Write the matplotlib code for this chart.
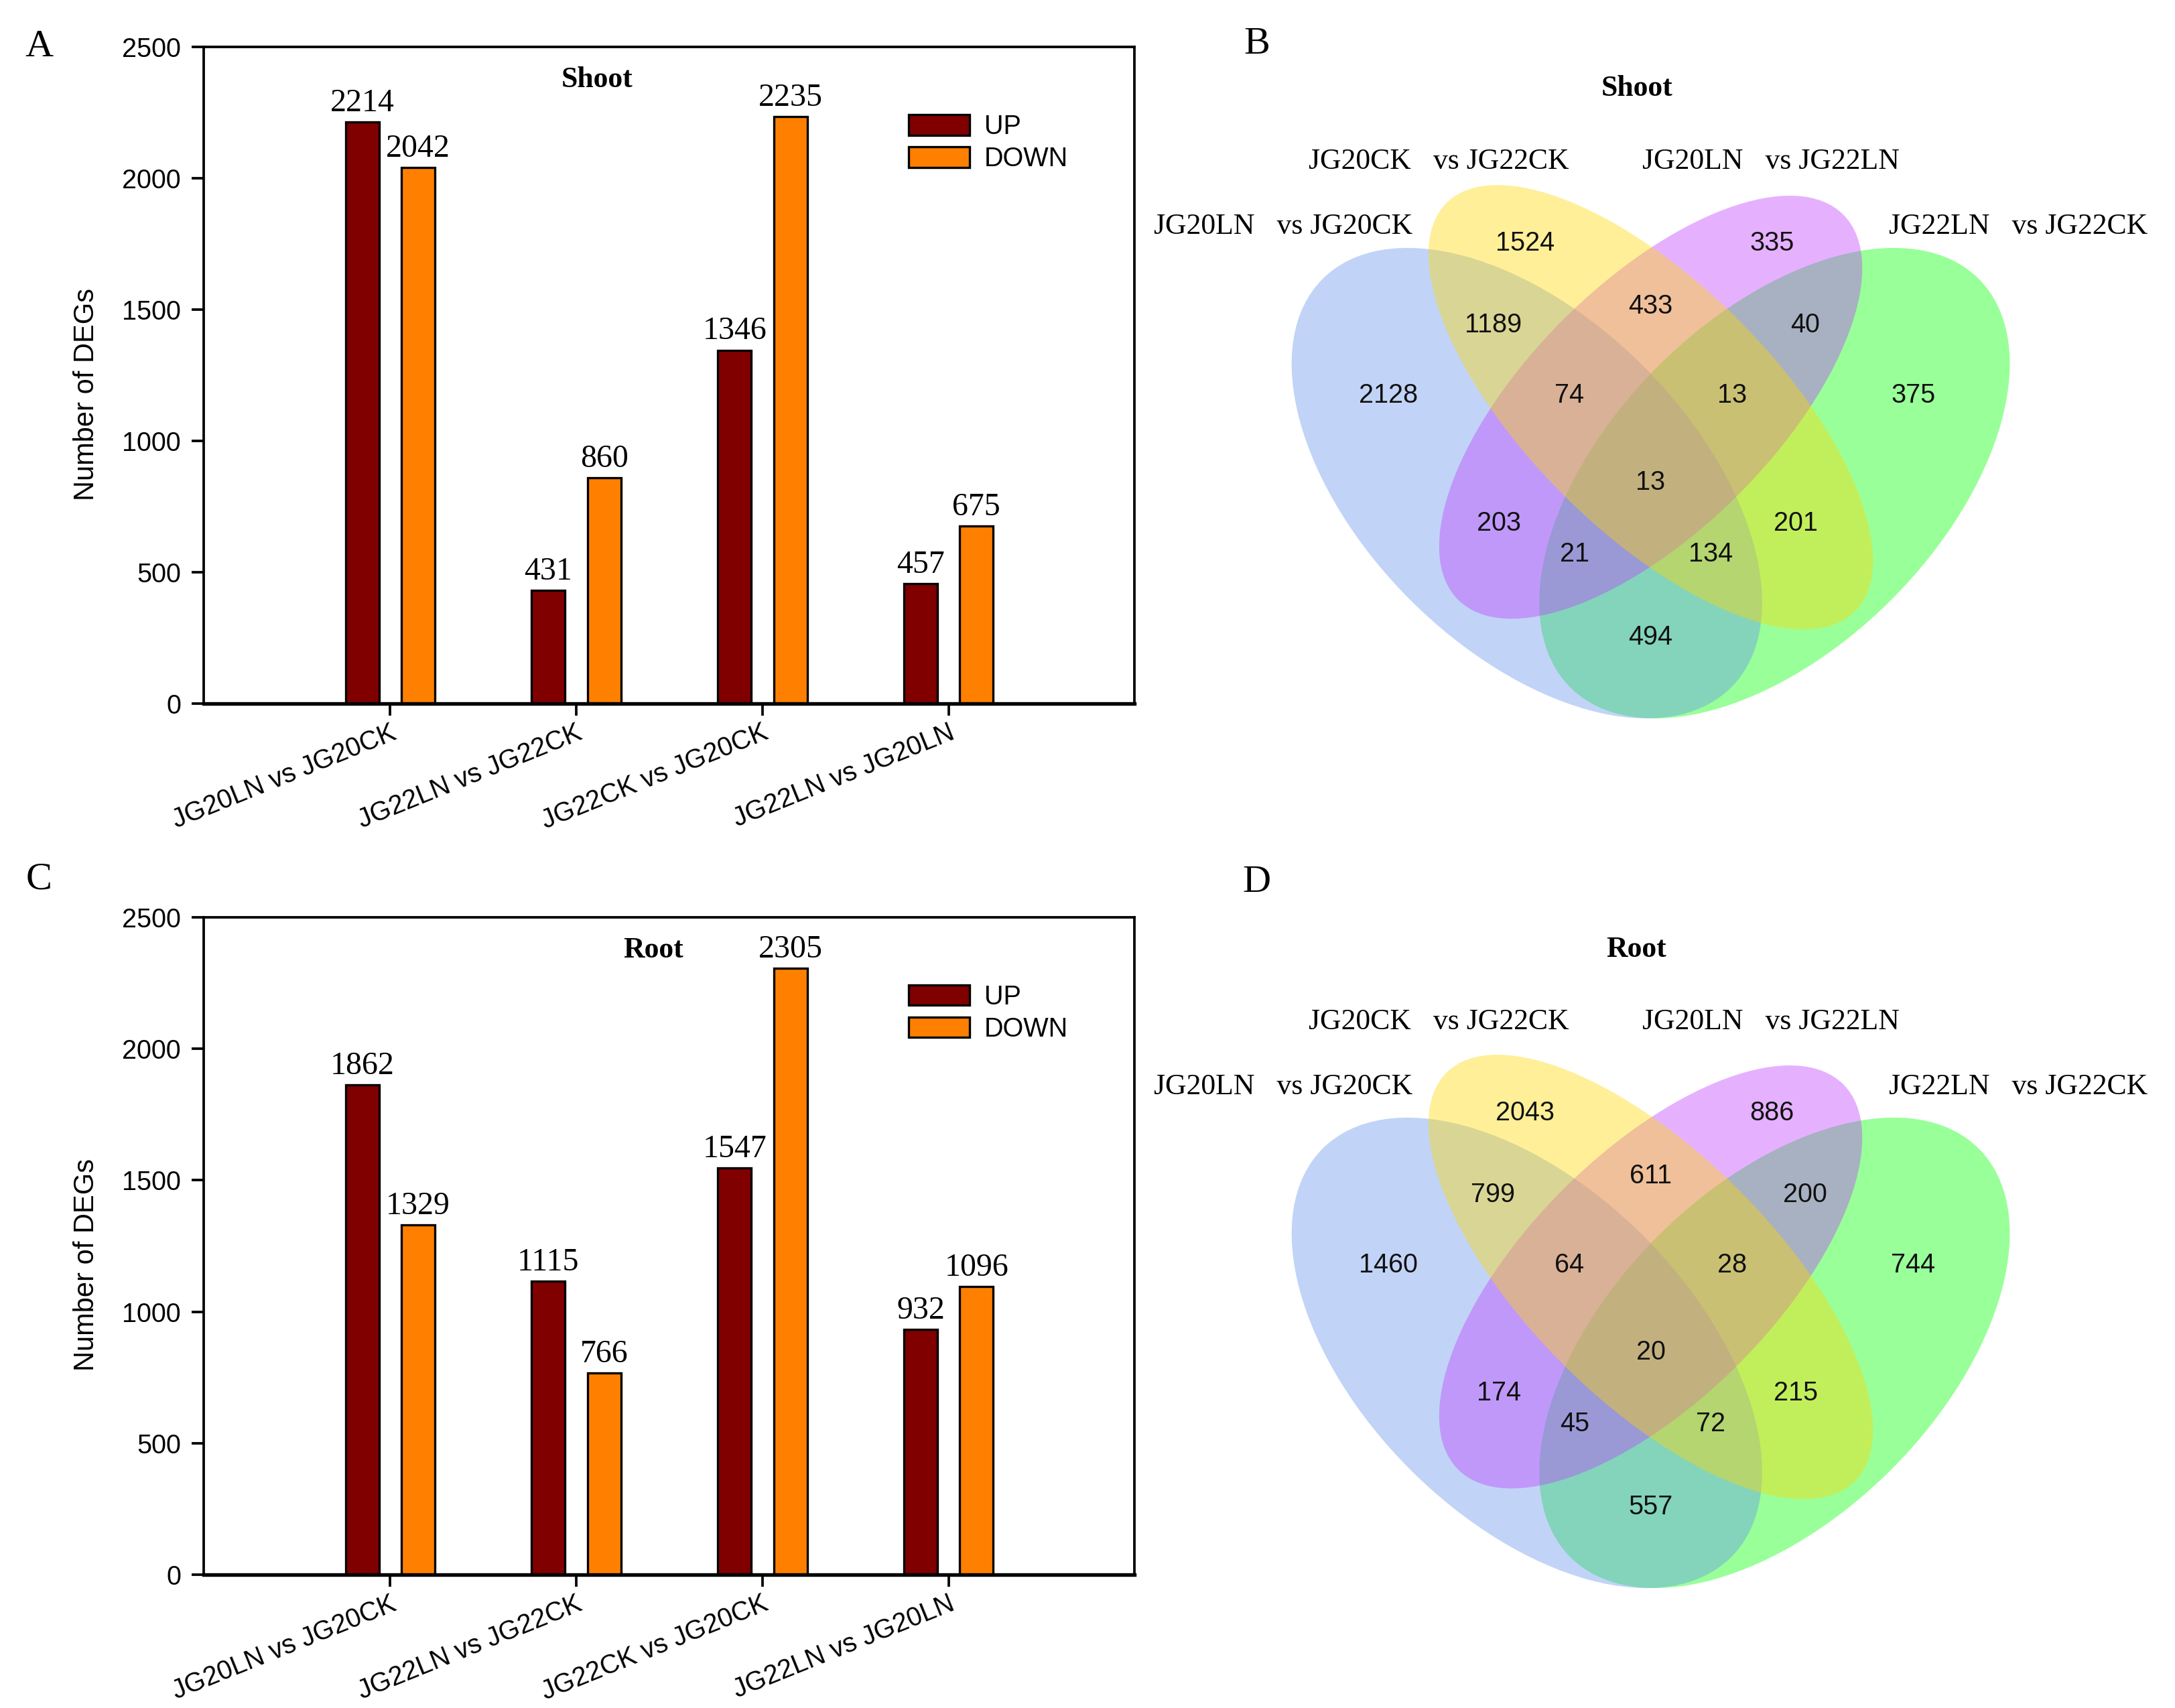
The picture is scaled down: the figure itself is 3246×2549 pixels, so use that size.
"""DEG counts (bar charts) and four-set Venn diagrams for shoot and root."""

import matplotlib

matplotlib.use("Agg")
import matplotlib.pyplot as plt
from matplotlib.patches import Ellipse

SERIF = "Liberation Serif"
SANS = "Liberation Sans"

# ---- bar chart data ----
categories = ["JG20LN vs JG20CK", "JG22LN vs JG22CK", "JG22CK vs JG20CK", "JG22LN vs JG20LN"]
shoot_up = [2214, 431, 1346, 457]
shoot_down = [2042, 860, 2235, 675]
root_up = [1862, 1115, 1547, 932]
root_down = [1329, 766, 2305, 1096]

# ---- venn data (A=JG20LN vs JG20CK, B=JG20CK vs JG22CK, C=JG20LN vs JG22LN, D=JG22LN vs JG22CK) ----
venn_sets = ["JG20LN   vs JG20CK", "JG20CK   vs JG22CK", "JG20LN   vs JG22LN", "JG22LN   vs JG22CK"]
region_keys = ["A", "B", "C", "D", "AB", "AC", "AD", "BC", "BD", "CD", "ABC", "ABD", "ACD", "BCD", "ABCD"]
shoot_regions = [2128, 1524, 335, 375, 1189, 203, 494, 433, 201, 40, 74, 134, 21, 13, 13]
root_regions = [1460, 2043, 886, 744, 799, 174, 557, 611, 215, 200, 64, 72, 45, 28, 20]

# label positions inside the venn (venn units)
region_pos = {
    "A": (0.182, 0.584), "B": (0.348, 0.769), "C": (0.647, 0.769), "D": (0.818, 0.584),
    "AB": (0.309, 0.670), "AC": (0.316, 0.429), "AD": (0.500, 0.291), "BC": (0.500, 0.692),
    "BD": (0.676, 0.429), "CD": (0.687, 0.670), "ABC": (0.401, 0.584), "ABD": (0.573, 0.392),
    "ACD": (0.408, 0.392), "BCD": (0.599, 0.584), "ABCD": (0.500, 0.479),
}
set_label_pos = [(0.055, 0.789), (0.243, 0.868), (0.646, 0.868), (0.945, 0.789)]
# (x, y, semi-major, semi-minor, angle, colour, zorder)
ellipses = [
    (0.35, 0.478, 0.35, 0.20, 135, "cornflowerblue", 2),
    (0.50, 0.57, 0.35, 0.15, 135, "gold", 4),
    (0.50, 0.57, 0.33, 0.15, 45, "#BF3EFF", 3),
    (0.65, 0.478, 0.35, 0.20, 45, "#00FF00", 1),
]

UP_COLOR = "#800000"
DOWN_COLOR = "#FF8000"


def bar_panel(ax, up, down, title, title_x):
    groups = list(range(1, len(categories) + 1))
    up_x = [g - 0.15 for g in groups]
    down_x = [g + 0.15 for g in groups]
    ax.bar(up_x, up, width=0.18, color=UP_COLOR, edgecolor="black", linewidth=0.8, label="UP", zorder=2)
    ax.bar(down_x, down, width=0.18, color=DOWN_COLOR, edgecolor="black", linewidth=0.8, label="DOWN", zorder=2)
    for x, v in list(zip(up_x, up)) + list(zip(down_x, down)):
        ax.annotate(str(v), (x, v), xytext=(0, 1.5), textcoords="offset points",
                    ha="center", va="bottom", family=SERIF, fontsize=11.5)
    ax.set_xlim(0, 5)
    ax.set_ylim(0, 2500)
    ax.set_yticks(range(0, 2501, 500))
    ax.set_xticks(groups)
    ax.set_xticklabels(categories, rotation=22, ha="right", va="top", rotation_mode="anchor",
                       family=SANS, fontsize=9.5)
    for lab in ax.get_yticklabels():
        lab.set_family(SANS)
        lab.set_fontsize(9.5)
    ax.tick_params(axis="both", direction="out", length=4.3, width=0.9, pad=4)
    ax.tick_params(axis="x", pad=1.5)
    for s in ax.spines.values():
        s.set_linewidth(0.9)
    ax.spines["bottom"].set_linewidth(1.3)
    ax.set_ylabel("Number of DEGs", family=SANS, fontsize=10)
    ax.yaxis.set_label_coords(-0.112, 0.471)
    ax.text(title_x, 0.95, title, transform=ax.transAxes, ha="center", va="center",
            family=SERIF, fontweight="bold", fontsize=10.5)
    ax.legend(loc="upper left", bbox_to_anchor=(0.757, 0.898), frameon=False,
              prop={"family": SANS, "size": 9.5}, handlelength=2.3, handleheight=0.8,
              labelspacing=0.25, handletextpad=0.55, borderpad=0, borderaxespad=0)


def venn_panel(ax, counts, title, title_y, label_dy):
    for x, y, a, b, ang, col, z in ellipses:
        ax.add_patch(Ellipse((x, y), 2 * a, 2 * b, angle=ang, facecolor=col,
                             alpha=0.4, linewidth=0, zorder=z))
    for key, val in zip(region_keys, counts):
        x, y = region_pos[key]
        ax.text(x, y, str(val), ha="center", va="center", family=SANS, fontsize=9.5,
                color="#111111", zorder=10)
    for name, (x, y) in zip(venn_sets, set_label_pos):
        ax.text(x, y + label_dy, name, ha="center", va="center", family=SERIF, fontsize=10.5, zorder=10)
    ax.text(0.483, title_y, title, ha="center", va="center", family=SERIF,
            fontweight="bold", fontsize=10.5)
    ax.set_xlim(0, 1)
    ax.set_ylim(0.1, 1.05)
    ax.axis("off")


fig = plt.figure(figsize=(3246 / 300, 2549 / 300), dpi=300)

ax_a = fig.add_axes([0.0938, 0.5881, 0.4279, 0.3843])
ax_c = fig.add_axes([0.0938, 0.0780, 0.4279, 0.3850])
ax_b = fig.add_axes([0.5692, 0.5345, 0.3795, 0.4590])
ax_d = fig.add_axes([0.5692, 0.0253, 0.3795, 0.4590])

bar_panel(ax_a, shoot_up, shoot_down, "Shoot", 0.422)
bar_panel(ax_c, root_up, root_down, "Root", 0.483)
venn_panel(ax_b, shoot_regions, "Shoot", 0.956, 0.0)
venn_panel(ax_d, root_regions, "Root", 0.967, 0.011)

for letter, x, y in [("A", 0.0179, 0.9724), ("B", 0.5778, 0.974), ("C", 0.0179, 0.485), ("D", 0.5778, 0.4833)]:
    fig.text(x, y, letter, ha="center", va="center", family=SERIF, fontsize=14)

fig.savefig("out.png", dpi=300, facecolor="white")
